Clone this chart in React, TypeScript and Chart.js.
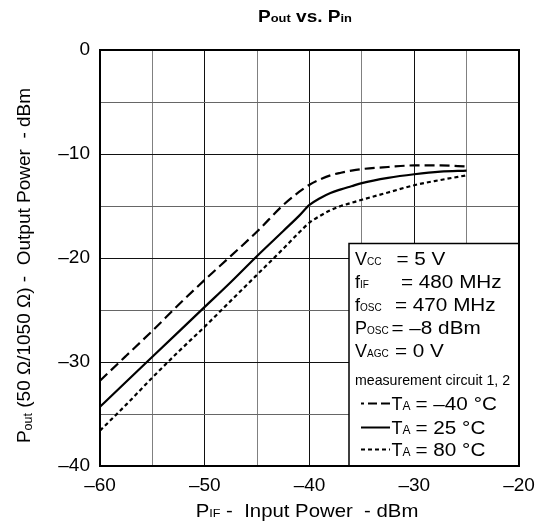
import React, { useEffect, useRef } from "react";
import { Chart, registerables } from "chart.js";

Chart.register(...registerables);

const FONT = '"Liberation Sans", Arial, Helvetica, sans-serif';

// P_IF input power (dBm)
const inputPower = [-60, -57.5, -55, -52.5, -50, -47.5, -45, -42.5, -41, -40, -39, -38, -37, -36, -35, -32.5, -30, -27.5, -25];
// P_out output power (dBm) at TA = -40 °C
const outM40 = [-31.8, -29.4, -27.0, -24.5, -22.1, -19.8, -17.45, -14.9, -13.65, -12.95, -12.45, -12.05, -11.8, -11.6, -11.45, -11.25, -11.1, -11.1, -11.2];
// TA = 25 °C
const out25 = [-34.3, -31.9, -29.5, -27.1, -24.7, -22.3, -19.8, -17.4, -15.95, -14.9, -14.25, -13.75, -13.4, -13.1, -12.8, -12.3, -11.95, -11.7, -11.6];
// TA = 80 °C
const out80 = [-36.6, -34.1, -31.5, -29.0, -26.6, -24.1, -21.6, -19.1, -17.55, -16.6, -15.95, -15.4, -15.0, -14.7, -14.4, -13.7, -13.0, -12.5, -12.05];

const xTicks = [-60, -50, -40, -30, -20];
const yTicks = [0, -10, -20, -30, -40];

const minus = (v: number) => (v === 0 ? "0" : "\u2013" + Math.abs(v));

type Seg = { t: string; s: number; b?: boolean; dy?: number };

function richWidth(ctx: CanvasRenderingContext2D, segs: Seg[]) {
  let w = 0;
  for (const g of segs) {
    ctx.font = `${g.b ? "bold " : ""}${g.s}px ${FONT}`;
    w += ctx.measureText(g.t).width;
  }
  return w;
}

function drawRich(
  ctx: CanvasRenderingContext2D,
  x: number,
  y: number,
  segs: Seg[],
  align: "left" | "center" = "left",
  sx = 1
) {
  ctx.save();
  ctx.translate(x, y);
  ctx.scale(sx, 1);
  let cx = 0;
  if (align === "center") cx = -richWidth(ctx, segs) / 2;
  ctx.textAlign = "left";
  ctx.textBaseline = "alphabetic";
  for (const g of segs) {
    ctx.font = `${g.b ? "bold " : ""}${g.s}px ${FONT}`;
    ctx.fillText(g.t, cx, g.dy || 0);
    cx += ctx.measureText(g.t).width;
  }
  ctx.restore();
}

const LSX = 1.15;

const decorPlugin = {
  id: "decor",
  afterDraw(chart: any) {
    const ctx: CanvasRenderingContext2D = chart.ctx;
    const a = chart.chartArea;
    ctx.save();
    ctx.fillStyle = "#000";

    // Title
    drawRich(ctx, 305, 22, [
      { t: "P", s: 17, b: true },
      { t: "out", s: 11.5, b: true },
      { t: " vs. ", s: 17, b: true },
      { t: "P", s: 17, b: true },
      { t: "in", s: 11.5, b: true },
    ], "center", 1.12);

    // X axis title
    drawRich(ctx, 307, 516.5, [
      { t: "P", s: 18.5 },
      { t: "IF", s: 11.5 },
      { t: " -  Input Power  - dBm", s: 18.5 },
    ], "center", 1.1);

    // Y axis title
    ctx.save();
    ctx.translate(30, 265.5);
    ctx.rotate(-Math.PI / 2);
    drawRich(ctx, 0, 0, [
      { t: "P", s: 19 },
      { t: "out", s: 12.5, dy: 2 },
      { t: " (50 \u03A9/1050 \u03A9) -  Output Power  - dBm", s: 19 },
    ], "center");
    ctx.restore();

    // Legend box
    const bl = a.right - 170;
    const bt = a.top + 193.5;
    ctx.fillStyle = "#fff";
    ctx.fillRect(bl, bt, a.right - bl, a.bottom - bt);
    ctx.strokeStyle = "#000";
    ctx.lineWidth = 1.5;
    ctx.strokeRect(bl, bt, a.right - bl, a.bottom - bt);
    ctx.fillStyle = "#000";

    const tx = bl + 6;
    const SC = 10;
    const rows: { y: number; label: Seg[]; eqx: number; rest: string }[] = [
      { y: bt + 21, label: [{ t: "V", s: 18 }, { t: "CC", s: SC }], eqx: bl + 47.5, rest: "= 5 V" },
      { y: bt + 44.5, label: [{ t: "f", s: 18 }, { t: "IF", s: SC }], eqx: bl + 52, rest: "= 480 MHz" },
      { y: bt + 67.5, label: [{ t: "f", s: 18 }, { t: "OSC", s: SC }], eqx: bl + 46, rest: "= 470 MHz" },
      { y: bt + 90.5, label: [{ t: "P", s: 18 }, { t: "OSC", s: SC }], eqx: bl + 42.5, rest: "= \u20138 dBm" },
      { y: bt + 113, label: [{ t: "V", s: 18 }, { t: "AGC", s: SC }], eqx: bl + 46, rest: "= 0 V" },
    ];
    for (const r of rows) {
      drawRich(ctx, tx, r.y, r.label, "left", 1);
      drawRich(ctx, r.eqx, r.y, [{ t: r.rest, s: 18 }], "left", LSX);
    }

    // measurement circuit line (condensed)
    ctx.save();
    ctx.font = `15px ${FONT}`;
    const mtxt = "measurement circuit 1, 2";
    const mw = ctx.measureText(mtxt).width;
    ctx.translate(tx, bt + 141);
    ctx.scale(155 / mw, 1);
    ctx.textAlign = "left";
    ctx.textBaseline = "alphabetic";
    ctx.fillText(mtxt, 0, 0);
    ctx.restore();

    const leg = [
      { y: bt + 166, dash: [9, 4], off: 6, label: "= \u201340 \u00B0C" },
      { y: bt + 190, dash: [], off: 0, label: "= 25 \u00B0C" },
      { y: bt + 212, dash: [4, 3], off: 0, label: "= 80 \u00B0C" },
    ];
    for (const l of leg) {
      ctx.save();
      ctx.strokeStyle = "#000";
      ctx.lineWidth = 2;
      ctx.setLineDash(l.dash);
      ctx.lineDashOffset = l.off;
      ctx.beginPath();
      ctx.moveTo(bl + 12, l.y - 6);
      ctx.lineTo(bl + 41, l.y - 6);
      ctx.stroke();
      ctx.restore();
      drawRich(ctx, bl + 42.5, l.y, [{ t: "T", s: 18 }, { t: "A", s: 12 }], "left", 1);
      drawRich(ctx, bl + 66.5, l.y, [{ t: l.label, s: 18 }], "left", LSX);
    }

    // Frame
    ctx.strokeStyle = "#000";
    ctx.lineWidth = 2;
    ctx.setLineDash([]);
    ctx.strokeRect(a.left, a.top, a.right - a.left, a.bottom - a.top);
    ctx.restore();
  },
};

export default function App() {
  const ref = useRef<HTMLCanvasElement>(null);
  useEffect(() => {
    if (!ref.current) return;
    const mk = (data: number[], dash: number[]) => ({
      data: inputPower.map((x, i) => ({ x, y: data[i] })),
      borderColor: "#000",
      borderWidth: 2.2,
      borderDash: dash,
      pointRadius: 0,
      fill: false,
      cubicInterpolationMode: "monotone" as const,
    });
    const chart = new Chart(ref.current, {
      type: "line",
      data: {
        datasets: [mk(outM40, [10, 5]), mk(out25, []), mk(out80, [4, 3])],
      },
      plugins: [decorPlugin],
      options: {
        responsive: false,
        animation: false,
        events: [],
        layout: { padding: { left: 0, top: 50, right: 18, bottom: 0 } },
        plugins: { legend: { display: false }, tooltip: { enabled: false }, title: { display: false } },
        scales: {
          x: {
            type: "linear",
            min: -60,
            max: -20,
            afterFit: (s: any) => {
              s.height = 61;
              s.paddingLeft = 0;
              s.paddingRight = 0;
            },
            afterBuildTicks: (s: any) => {
              const t = [];
              for (let v = -60; v <= -20; v += 5) t.push({ value: v });
              s.ticks = t;
            },
            ticks: {
              autoSkip: false,
              maxRotation: 0,
              padding: 8,
              color: "#000",
              font: { family: FONT, size: 19 },
              callback: (v: any) => (xTicks.includes(v) ? minus(v) : ""),
            },
            grid: {
              drawTicks: false,
              color: (c: any) => (c.tick && c.tick.value % 10 === 0 ? "#111" : "#808080"),
              lineWidth: 1,
            },
            border: { display: false },
          },
          y: {
            type: "linear",
            min: -40,
            max: 0,
            afterFit: (s: any) => {
              s.width = 100;
              s.paddingTop = 0;
              s.paddingBottom = 0;
            },
            afterBuildTicks: (s: any) => {
              const t = [];
              for (let v = -40; v <= 0; v += 5) t.push({ value: v });
              s.ticks = t;
            },
            ticks: {
              autoSkip: false,
              padding: 10,
              color: "#000",
              font: { family: FONT, size: 19 },
              callback: (v: any) => (yTicks.includes(v) ? minus(v) : ""),
            },
            grid: {
              drawTicks: false,
              color: (c: any) => (c.tick && c.tick.value % 10 === 0 ? "#111" : "#666"),
              lineWidth: 1,
            },
            border: { display: false },
          },
        },
      },
    } as any);
    return () => chart.destroy();
  }, []);
  return (
    <div style={{ position: "fixed", left: 0, top: 0, width: 537, height: 527, background: "#fff" }}>
      <canvas ref={ref} width={537} height={527} style={{ width: 537, height: 527, display: "block" }} />
    </div>
  );
}
